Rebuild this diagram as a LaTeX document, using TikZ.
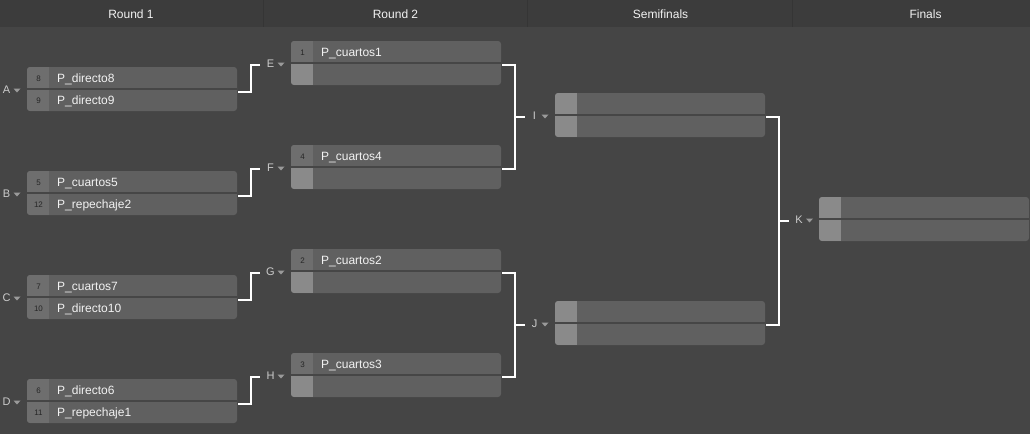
\documentclass[tikz,border=0pt]{standalone}
\usepackage{fontspec}
\setmainfont{Liberation Sans}
\usetikzlibrary{calc}
\definecolor{bg}{HTML}{454545}
\definecolor{hdr}{HTML}{3C3C3C}
\definecolor{hdrline}{HTML}{353535}
\definecolor{body}{HTML}{606060}
\definecolor{seedon}{HTML}{6E6E6E}
\definecolor{seedoff}{HTML}{8A8A8A}
\definecolor{sepc}{HTML}{464646}
\definecolor{lbl}{HTML}{CCCCCC}
\definecolor{tric}{HTML}{9A9A9A}
\definecolor{txt}{HTML}{F2F2F2}
\definecolor{seedtx}{HTML}{262626}
\tikzset{
  matchbox/.style={fill=body, rounded corners=3pt, minimum width=210pt, minimum height=44pt, inner sep=0pt, outer sep=0pt, anchor=north west},
  rowsep/.style={draw=sepc, line width=1.5pt},
  seedtxt/.style={font=\fontsize{8}{9}\selectfont, text=seedtx, anchor=base, inner sep=0pt},
  nametxt/.style={font=\fontsize{12}{14}\selectfont, text=txt, anchor=base west, inner sep=0pt},
  hdrtxt/.style={font=\fontsize{12}{14}\selectfont, text=txt, anchor=base, inner sep=0pt},
  lbltxt/.style={font=\fontsize{11}{12}\selectfont, text=lbl, anchor=base, inner sep=0pt},
  tri/.style={fill=tric},
  conn/.style={draw=white, line width=2pt}
}
% name, x, y, seed1, text1, seed2, text2, colour1, colour2
\newcommand\drawmatch[9]{%
  \node[matchbox] (#1) at (#2,#3) {};
  \begin{scope}
    \clip[rounded corners=3pt] (#1.north west) rectangle (#1.south east);
    \fill[#8] (#1.north west) rectangle ($(#1.west)+(22,0)$);
    \fill[#9] (#1.west) rectangle ($(#1.south west)+(22,0)$);
  \end{scope}
  \draw[rowsep] (#1.west) -- (#1.east);
  \node[seedtxt] (#1s1) at ($(#1.north west)+(11.5,14)$) {#4};
  \node[seedtxt] (#1s2) at ($(#1.north west)+(11.5,36)$) {#6};
  \node[nametxt] (#1t1) at ($(#1.north west)+(30,15)$) {#5};
  \node[nametxt] (#1t2) at ($(#1.north west)+(30,37)$) {#7};
}
% name, letter, x centre, divider y
\newcommand\drawlabel[4]{%
  \node[lbltxt] (#1) at (#3,#4+4.6) {#2};
  \fill[tri] (#3+7,#4-0.5) -- (#3+14,#4-0.5) -- (#3+10.5,#4+3.5) -- cycle;
}
\begin{document}
\begin{tikzpicture}[x=1pt,y=-1pt]
\useasboundingbox (0,0) rectangle (1030,434);
\fill[bg] (0,0) rectangle (1030,434);
% header
\fill[hdr] (0,0) rectangle (1030,27);
\foreach \xx in {263,527.5,792}{\draw[hdrline, line width=1pt] (\xx,0) -- (\xx,27);}
\node[hdrtxt] (h1) at (131,18.3) {Round 1};
\node[hdrtxt] (h2) at (395.5,18.3) {Round 2};
\node[hdrtxt] (h3) at (660.5,18.3) {Semifinals};
\node[hdrtxt] (h4) at (925.5,18.3) {Finals};
% round 1
\drawmatch{A}{27}{67}{8}{P\_directo8}{9}{P\_directo9}{seedon}{seedon}
\drawmatch{B}{27}{171}{5}{P\_cuartos5}{12}{P\_repechaje2}{seedon}{seedon}
\drawmatch{C}{27}{275}{7}{P\_cuartos7}{10}{P\_directo10}{seedon}{seedon}
\drawmatch{D}{27}{379}{6}{P\_directo6}{11}{P\_repechaje1}{seedon}{seedon}
% round 2
\drawmatch{E}{291}{41}{1}{P\_cuartos1}{}{}{seedon}{seedoff}
\drawmatch{F}{291}{145}{4}{P\_cuartos4}{}{}{seedon}{seedoff}
\drawmatch{G}{291}{249}{2}{P\_cuartos2}{}{}{seedon}{seedoff}
\drawmatch{H}{291}{353}{3}{P\_cuartos3}{}{}{seedon}{seedoff}
% semifinals
\drawmatch{I}{555}{93}{}{}{}{}{seedoff}{seedoff}
\drawmatch{J}{555}{301}{}{}{}{}{seedoff}{seedoff}
% final
\drawmatch{K}{819}{197}{}{}{}{}{seedoff}{seedoff}
% labels
\drawlabel{lA}{A}{6.5}{89}
\drawlabel{lB}{B}{6.5}{193}
\drawlabel{lC}{C}{6.5}{297}
\drawlabel{lD}{D}{6.5}{401}
\drawlabel{lE}{E}{270.5}{63}
\drawlabel{lF}{F}{270.5}{167}
\drawlabel{lG}{G}{270.5}{271}
\drawlabel{lH}{H}{270.5}{375}
\drawlabel{lI}{I}{534.5}{115}
\drawlabel{lJ}{J}{534.5}{323}
\drawlabel{lK}{K}{799}{219}
% connectors round 1 -> round 2
\draw[conn] ($(A.east)+(1,2.5)$) -- ++(13,0) |- ($(E.west)+(-31,2)$);
\draw[conn] ($(B.east)+(1,2.5)$) -- ++(13,0) |- ($(F.west)+(-31,2)$);
\draw[conn] ($(C.east)+(1,2.5)$) -- ++(13,0) |- ($(G.west)+(-31,2)$);
\draw[conn] ($(D.east)+(1,2.5)$) -- ++(13,0) |- ($(H.west)+(-31,2)$);
% round 2 -> semifinals
\draw[conn] ($(E.east)+(1,2)$) -| ($(F.east)+(14,2)$) -- ($(F.east)+(1,2)$);
\draw[conn] ($(I.west)+(-40,2)$) -- ($(I.west)+(-30.5,2)$);
\draw[conn] ($(G.east)+(1,2)$) -| ($(H.east)+(14,2)$) -- ($(H.east)+(1,2)$);
\draw[conn] ($(J.west)+(-40,2)$) -- ($(J.west)+(-30.5,2)$);
% semifinals -> final
\draw[conn] ($(I.east)+(1,2)$) -| ($(J.east)+(14,2)$) -- ($(J.east)+(1,2)$);
\draw[conn] ($(K.west)+(-40,2)$) -- ($(K.west)+(-30,2)$);
\end{tikzpicture}
\end{document}
